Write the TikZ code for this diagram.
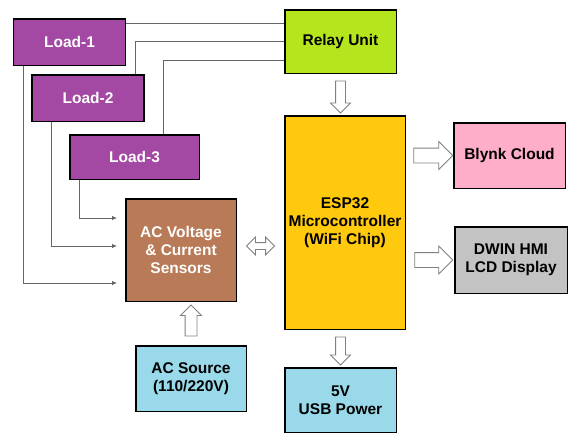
\documentclass[tikz,border=0pt]{standalone}
\usepackage{fontspec}
\setmainfont{Liberation Sans}
\usepackage{tikz}
\usetikzlibrary{arrows.meta,shapes,calc}

\definecolor{loadpurple}{HTML}{A349A4}
\definecolor{relaygreen}{HTML}{B5E61D}
\definecolor{espyellow}{HTML}{FFC90E}
\definecolor{blynkpink}{HTML}{FFAEC9}
\definecolor{hmigray}{HTML}{C3C3C3}
\definecolor{powerblue}{HTML}{99D9EA}
\definecolor{sensorbrown}{HTML}{B97A57}

\begin{document}
\begin{tikzpicture}[x=1pt,y=-1pt]
\tikzset{
	box/.style = {draw, line width = 1.5pt, inner sep = 0, align = center, font = \bfseries\fontsize{15.5}{18}\selectfont},
	load box/.style = {box, fill = loadpurple, text = white, minimum width = 112pt, minimum height = 46.5pt},
	wire/.style = {draw = black!60, line width = 0.8pt},
	wire arrow/.style = {wire, -{Latex[length=5pt,width=4.5pt]}, shorten > = 8pt},
	hollow arrow/.style = {single arrow, draw = black!50, fill = white, line width = 0.8pt, inner xsep = 0, minimum width = 0},
}
\useasboundingbox (0,0) rectangle (585,439);

\node(load1)[load box] at (69.5,42) {Load-1};
\node(load2)[load box] at (88,98) {Load-2};
\node(load3)[load box, minimum width = 129.5pt, minimum height = 44.5pt] at (134.5,157) {Load-3};
\node(relay)[box, fill = relaygreen, minimum width = 111.5pt, minimum height = 63.5pt] at (340.5,41.5) {Relay Unit};
\node(sensors)[box, fill = sensorbrown, text = white, minimum width = 110.5pt, minimum height = 102.5pt] at (181,250) {AC Voltage\\\& Current\\Sensors};
\node(source)[box, fill = powerblue, minimum width = 110.5pt, minimum height = 65.5pt] at (191,378.5) {AC Source\\ (110/220V)};
\node(esp)[box, fill = espyellow, minimum width = 120.5pt, minimum height = 213.5pt] at (345,222.5) {ESP32\\Microcontroller\\(WiFi Chip)};
\node(blynk)[box, fill = blynkpink, minimum width = 111.5pt, minimum height = 65.5pt] at (509.5,155.5) {Blynk Cloud};
\node(dwin)[box, fill = hmigray, minimum width = 112.5pt, minimum height = 66.5pt] at (511,260) {DWIN HMI\\LCD Display};
\node(usb)[box, fill = powerblue, minimum width = 111.5pt, minimum height = 64.5pt] at (340.5,400) {5V\\USB Power};

% relay lines
\draw[wire] (load1.east |- 0,23) -- (relay.west |- 0,23);
\draw[wire] (135,0 |- load2.north) |- (relay.west |- 0,41);
\draw[wire] (163,0 |- load3.north) |- (relay.west |- 0,60);

\foreach \n/\x/\y in {1/23/283, 2/51/246, 3/79/218} \draw[wire arrow] (\x,0 |- load\n.south) |- (sensors.west |- 0,\y);

% block arrows
\node(relay to esp)[hollow arrow, rotate = -90, minimum height = 32pt, inner ysep = 4.5pt, single arrow head extend = 5pt] at ($(relay.south)!0.5!(esp.north -| relay.south)$) {};
\node(esp to blynk)[hollow arrow, minimum height = 39pt, inner ysep = 7pt, single arrow head extend = 6.5pt] at ($(esp.east |- blynk.west)!0.5!(blynk.west)$) {};
\node(esp to dwin)[hollow arrow, minimum height = 38pt, inner ysep = 7pt, single arrow head extend = 6.5pt] at ($(esp.east |- dwin.west)!0.5!(dwin.west)$) {};
\node(esp to usb)[hollow arrow, rotate = -90, minimum height = 28pt, inner ysep = 4.5pt, single arrow head extend = 5pt] at ($(usb.north)!0.5!(usb.north |- esp.south)$) {};
\node(source to sensors)[hollow arrow, rotate = 90, minimum height = 31pt, inner ysep = 5.5pt, single arrow head extend = 4.5pt] at ($(source.north)!0.5!(source.north |- sensors.south)$) {};
\node(sensors to esp)[double arrow, draw = black!50, fill = white, line width = 0.8pt, inner xsep = 0, inner ysep = 3pt, minimum width = 0, minimum height = 28pt, double arrow head extend = 5.5pt] at ($(sensors.east |- 0,246)!0.5!(esp.west |- 0,246)$) {};

\end{tikzpicture}
\end{document}
